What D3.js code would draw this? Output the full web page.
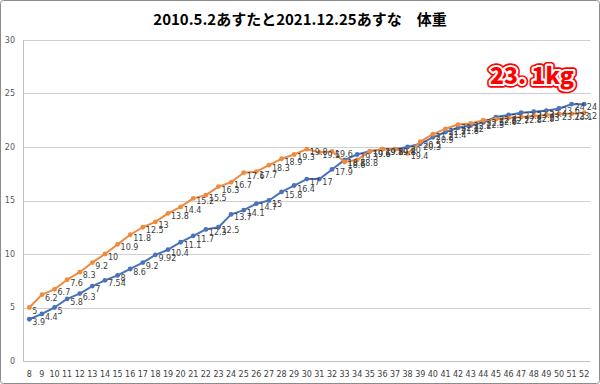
<!DOCTYPE html>
<html>
<head>
<meta charset="utf-8">
<script src="https://cdn.jsdelivr.net/npm/d3@7"></script>
<style>
  body { margin: 0; background: #fff; }
  svg { display: block; }
</style>
</head>
<body>
<div id="chart"></div>
<script>
// week numbers on the x axis
var weeks = [];
for (var w = 8; w <= 52; w++) weeks.push(String(w));

// あすた (orange) and あすな (blue)
var astaWeight = [5, 6.2, 6.7, 7.6, 8.3, 9.2, 10, 10.9, 11.8, 12.5, 13, 13.8, 14.4, 15.2, 15.5,
    16.3, 16.7, 17.6, 17.7, 18.3, 18.9, 19.3, 19.8, 19.5, 19.6, 18.6, 18.8, 19.6, 19.8, 19.8,
    19.4, 20.5, 21.2, 21.7, 22.1, 22.2, 22.5, 22.6, 22.7, 22.8, 22.9, 23, 23.1, 23.1, 23.2];
var asunaWeight = [3.9, 4.4, 5, 5.8, 6.3, 7, 7.54, 8, 8.6, 9.2, 9.92, 10.4, 11.1, 11.7, 12.3,
    12.5, 13.7, 14.1, 14.7, 15, 15.8, 16.4, 17, 17, 17.9, 18.8, 19.3, 19.6, 19.8, 19.8,
    20, 20.3, 20.9, 21.4, 21.8, 22, 22.3, 22.8, 23, 23.2, 23.3, 23.4, 23.6, 24, 24];
var yTicks = [0, 5, 10, 15, 20, 25, 30];

var titleText = "2010.5.2あすたと2021.12.25あすな\u3000体重";
var noteText = "23. 1kg";

function DrawChart() {
    var W = 600, H = 384;
    var plotLeft = 23, plotRight = 590.5, plotTop = 40, plotBottom = 361;

    var svg = d3.select("#chart").append("svg")
        .attr("width", W)
        .attr("height", H);

    // outer frame
    svg.append("rect")
        .attr("x", 0.5).attr("y", 0.5)
        .attr("width", W - 1).attr("height", H - 1)
        .attr("rx", 3)
        .attr("fill", "#fff")
        .attr("stroke", "#8c8c8c");

    var x = d3.scalePoint().domain(weeks).range([plotLeft, plotRight]).padding(0.5);
    var y = d3.scaleLinear().domain([0, 30]).range([plotBottom, plotTop]);

    // gridlines
    svg.append("g").selectAll("line")
        .data(yTicks.slice(1))
        .enter().append("line")
        .attr("x1", plotLeft).attr("x2", plotRight)
        .attr("y1", function(d) { return Math.round(y(d)) + 0.5; })
        .attr("y2", function(d) { return Math.round(y(d)) + 0.5; })
        .attr("stroke", "#d0d0d0");

    // axis lines
    svg.append("line")
        .attr("x1", plotLeft + 0.5).attr("x2", plotLeft + 0.5)
        .attr("y1", plotTop).attr("y2", plotBottom)
        .attr("stroke", "#bfbfbf");
    svg.append("line")
        .attr("x1", plotLeft).attr("x2", plotRight)
        .attr("y1", plotBottom + 0.5).attr("y2", plotBottom + 0.5)
        .attr("stroke", "#bfbfbf");

    // y labels
    svg.append("g").selectAll("text")
        .data(yTicks)
        .enter().append("text")
        .attr("x", 15)
        .attr("y", function(d) { return y(d); })
        .attr("dy", "0.35em")
        .attr("text-anchor", "end")
        .attr("fill", "#595959")
        .style("font-family", "'DejaVu Sans', sans-serif")
        .style("font-size", "8px")
        .text(function(d) { return d; });

    // x labels
    svg.append("g").selectAll("text")
        .data(weeks)
        .enter().append("text")
        .attr("x", function(d) { return x(d); })
        .attr("y", 377)
        .attr("text-anchor", "middle")
        .attr("fill", "#404040")
        .style("font-family", "'DejaVu Sans', sans-serif")
        .style("font-size", "8px")
        .text(function(d) { return d; });

    // title
    svg.append("text")
        .attr("x", 300).attr("y", 25)
        .attr("text-anchor", "middle")
        .attr("fill", "#000")
        .style("font-family", "'Noto Sans CJK JP', sans-serif")
        .style("font-weight", "bold")
        .style("font-size", "15px")
        .text(titleText);

    function drawSeries(values, color) {
        var pts = values.map(function(v, i) { return [weeks[i], v]; });
        var line = d3.line()
            .x(function(d) { return x(d[0]); })
            .y(function(d) { return y(d[1]); });
        svg.append("path")
            .datum(pts)
            .attr("d", line)
            .attr("fill", "none")
            .attr("stroke", color)
            .attr("stroke-width", 2)
            .attr("stroke-linejoin", "round");
        svg.append("g").selectAll("circle")
            .data(pts)
            .enter().append("circle")
            .attr("cx", function(d) { return x(d[0]); })
            .attr("cy", function(d) { return y(d[1]); })
            .attr("r", 2.4)
            .attr("fill", color);
    }

    function drawLabels(values) {
        svg.append("g").selectAll("text")
            .data(values)
            .enter().append("text")
            .attr("x", function(d, i) { return x(weeks[i]) + 3; })
            .attr("y", function(d) { return y(d) + 6; })
            .attr("fill", "#404040")
            .style("font-family", "'DejaVu Sans', sans-serif")
            .style("font-size", "8px")
            .text(function(d) { return d; })
            .each(function() {
                // keep the last labels inside the frame
                var len = this.getComputedTextLength();
                var lx = +this.getAttribute("x");
                if (lx + len > W - 3) this.setAttribute("x", W - 3 - len);
            });
    }

    drawSeries(asunaWeight, "#4a72bb");
    drawSeries(astaWeight, "#f08a3e");
    drawLabels(asunaWeight);
    drawLabels(astaWeight);

    // 23.1kg note
    var note = svg.append("g").attr("transform", "translate(532,84)");
    [["#ff0000", 7.5], ["#ffffff", 4.2]].forEach(function(s) {
        note.append("text")
            .attr("text-anchor", "middle")
            .attr("fill", "none")
            .attr("stroke", s[0])
            .attr("stroke-width", s[1])
            .attr("stroke-linejoin", "round")
            .style("font-family", "'Noto Sans CJK JP', sans-serif")
            .style("font-weight", "900")
            .style("font-size", "23px")
            .text(noteText);
    });
    note.append("text")
        .attr("text-anchor", "middle")
        .attr("fill", "#ff0000")
        .style("font-family", "'Noto Sans CJK JP', sans-serif")
        .style("font-weight", "900")
        .style("font-size", "23px")
        .text(noteText);
}

DrawChart();
</script>
</body>
</html>
